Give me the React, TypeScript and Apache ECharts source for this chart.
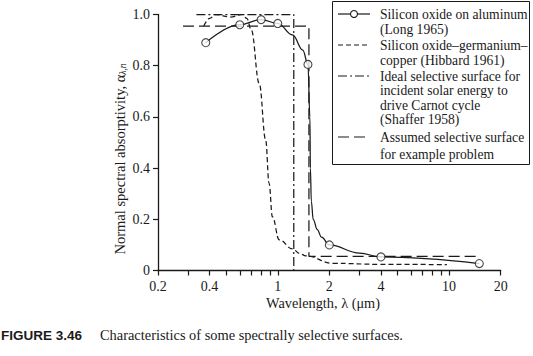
import React, { useEffect, useRef } from "react";
import * as echarts from "echarts";

// Silicon oxide on aluminum (Long 1965): curve and measured points
const longCurveX = [0.38, 0.6, 0.8, 1.0, 1.22, 1.4, 1.5, 1.54, 1.55, 1.57, 1.61, 1.7, 1.8, 2.0, 3.0, 4.0, 15];
const longCurveY = [0.89, 0.96, 0.98, 0.965, 0.92, 0.861, 0.805, 0.6, 0.4, 0.27, 0.2, 0.16, 0.13, 0.1, 0.068, 0.053, 0.027];
const longPointX = [0.38, 0.6, 0.8, 1.0, 1.5, 2.0, 4.0, 15];
const longPointY = [0.89, 0.96, 0.98, 0.965, 0.805, 0.1, 0.053, 0.027];

// Silicon oxide–germanium–copper (Hibbard 1961)
const hibbardX = [0.37, 0.4, 0.435, 0.53, 0.62, 0.66, 0.7, 0.78, 0.85, 0.89, 0.93, 1.02, 1.22, 1.34, 1.46, 2.1, 4.0, 9.7];
const hibbardY = [0.955, 0.985, 1.0, 0.99, 1.0, 0.985, 0.94, 0.73, 0.51, 0.34, 0.21, 0.12, 0.084, 0.067, 0.057, 0.028, 0.024, 0.023];

// Ideal selective surface (Shaffer 1958)
const shafferX = [0.335, 1.24, 1.24];
const shafferY = [1.0, 1.0, 0];

// Assumed selective surface for example problem
const assumedX = [0.28, 1.52, 1.52, 15];
const assumedY = [0.955, 0.955, 0.055, 0.055];

// Axis ticks
const xTickValues = [0.2, 0.3, 0.4, 0.5, 0.6, 0.7, 0.8, 0.9, 1, 2, 3, 4, 5, 6, 7, 8, 9, 10, 20];
const xLabelValues = [0.2, 0.4, 1, 2, 4, 10, 20];

const legendLines = [
  "Silicon oxide on aluminum",
  "(Long 1965)",
  "Silicon oxide\u2013germanium\u2013",
  "copper (Hibbard 1961)",
  "Ideal selective surface for",
  "incident solar energy to",
  "drive Carnot cycle",
  "(Shaffer 1958)",
  "Assumed selective surface",
  "for example problem",
];
const legendLineY = [14, 29.5, 45, 60, 76, 90.5, 105, 119.5, 137, 154];

const zip = (xs: number[], ys: number[]) => xs.map((x, i) => [x, ys[i]]);

const SERIF = "Liberation Serif";
const INK = "#1a1a1a";

export default function App() {
  const ref = useRef<HTMLDivElement>(null);

  useEffect(() => {
    if (!ref.current) return;
    const chart = echarts.init(ref.current, undefined, { renderer: "svg" });

    const baseLine = { color: INK, width: 1.25 };

    const serifText = (text: string, x: number, y: number, size: number) => ({
      type: "text",
      x,
      y,
      style: {
        text,
        fill: INK,
        fontFamily: SERIF,
        fontSize: size,
        textAlign: "left",
        textVerticalAlign: "middle",
      },
    });

    const graphics: any[] = [
      {
        type: "rect",
        shape: { x: 332.5, y: 1.5, width: 197, height: 163 },
        style: { fill: "#fff", stroke: INK, lineWidth: 1 },
        z: 10,
      },
      {
        type: "line",
        shape: { x1: 338, y1: 14, x2: 370, y2: 14 },
        style: { stroke: INK, lineWidth: 1.2 },
        z: 11,
      },
      {
        type: "circle",
        shape: { cx: 354, cy: 14, r: 3.5 },
        style: { fill: "#fff", stroke: INK, lineWidth: 1.1 },
        z: 12,
      },
      {
        type: "line",
        shape: { x1: 338, y1: 45, x2: 370, y2: 45 },
        style: { stroke: INK, lineWidth: 1.2, lineDash: [5, 3] },
        z: 11,
      },
      {
        type: "line",
        shape: { x1: 338, y1: 76, x2: 370, y2: 76 },
        style: { stroke: INK, lineWidth: 1.2, lineDash: [9, 3, 2, 3] },
        z: 11,
      },
      {
        type: "line",
        shape: { x1: 338, y1: 137, x2: 370, y2: 137 },
        style: { stroke: INK, lineWidth: 1.2, lineDash: [11, 5] },
        z: 11,
      },
      ...legendLines.map((t, i) => ({ ...serifText(t, 380, legendLineY[i], 13.6), z: 12 })),
      {
        type: "text",
        x: 120,
        y: 159,
        rotation: Math.PI / 2,
        style: {
          text: "{a|Normal spectral absorptivity, \u03b1}{s|\u03bb,n}",
          textAlign: "center",
          textVerticalAlign: "middle",
          rich: {
            a: { fontFamily: SERIF, fontSize: 14.5, fill: INK },
            s: {
              fontFamily: SERIF,
              fontSize: 9.5,
              fontStyle: "italic",
              fill: INK,
              verticalAlign: "bottom",
              padding: [6, 0, 0, 0],
            },
          },
        },
      },
      {
        type: "text",
        x: 323,
        y: 303,
        style: {
          text: "Wavelength, \u03bb (\u03bcm)",
          fill: INK,
          fontFamily: SERIF,
          fontSize: 14.3,
          textAlign: "center",
          textVerticalAlign: "middle",
        },
      },
      {
        type: "text",
        x: 1,
        y: 335,
        style: {
          text: "FIGURE 3.46",
          fill: INK,
          fontFamily: "Liberation Sans",
          fontWeight: "bold",
          fontSize: 13.5,
          textAlign: "left",
          textVerticalAlign: "middle",
        },
      },
      serifText("Characteristics of some spectrally selective surfaces.", 100, 335, 14.4),
    ];

    chart.setOption({
      animation: false,
      backgroundColor: "#fff",
      grid: {
        left: 158,
        right: 32.3,
        top: 14.5,
        bottom: 85.5,
        containLabel: false,
        outerBoundsMode: "none",
      },
      xAxis: {
        type: "log",
        logBase: 10,
        min: 0.2,
        max: 20,
        axisLine: { show: true, lineStyle: { color: INK, width: 1.3 } },
        axisTick: {
          show: true,
          length: 5,
          inside: false,
          customValues: xTickValues,
          lineStyle: { color: INK, width: 1.2 },
        },
        minorTick: { show: false },
        splitLine: { show: false },
        axisLabel: {
          customValues: xLabelValues,
          margin: 9,
          color: INK,
          fontFamily: SERIF,
          fontSize: 14,
          hideOverlap: false,
          formatter: (v: number) => String(Number(Number(v).toPrecision(6))),
        },
      },
      yAxis: {
        type: "value",
        min: 0,
        max: 1,
        interval: 0.2,
        axisLine: { show: true, lineStyle: { color: INK, width: 1.3 } },
        axisTick: { show: true, length: 5, inside: false, lineStyle: { color: INK, width: 1.2 } },
        splitLine: { show: false },
        axisLabel: {
          margin: 8,
          color: INK,
          fontFamily: SERIF,
          fontSize: 14,
          formatter: (v: number) => (v === 0 ? "0" : v.toFixed(1)),
        },
      },
      series: [
        {
          name: "Silicon oxide on aluminum (Long 1965)",
          type: "line",
          data: zip(longCurveX, longCurveY),
          showSymbol: false,
          smooth: 0.4,
          smoothMonotone: "x",
          lineStyle: { ...baseLine, type: "solid" },
          z: 3,
        },
        {
          name: "Long 1965 points",
          type: "scatter",
          data: zip(longPointX, longPointY),
          symbol: "circle",
          symbolSize: 8,
          itemStyle: { color: "#fff", borderColor: INK, borderWidth: 1.1 },
          z: 5,
        },
        {
          name: "Silicon oxide–germanium–copper (Hibbard 1961)",
          type: "line",
          data: zip(hibbardX, hibbardY),
          showSymbol: false,
          smooth: 0.4,
          smoothMonotone: "x",
          lineStyle: { ...baseLine, type: [5, 3] },
          z: 2,
        },
        {
          name: "Ideal selective surface (Shaffer 1958)",
          type: "line",
          data: zip(shafferX, shafferY),
          showSymbol: false,
          lineStyle: { ...baseLine, type: [9, 3, 2, 3] },
          z: 2,
        },
        {
          name: "Assumed selective surface",
          type: "line",
          data: zip(assumedX, assumedY),
          showSymbol: false,
          lineStyle: { ...baseLine, type: [11, 5] },
          z: 2,
        },
      ],
      graphic: graphics,
    });

    return () => chart.dispose();
  }, []);

  return (
    <div
      ref={ref}
      style={{ position: "fixed", left: 0, top: 0, width: 533, height: 356, background: "#fff" }}
    />
  );
}
